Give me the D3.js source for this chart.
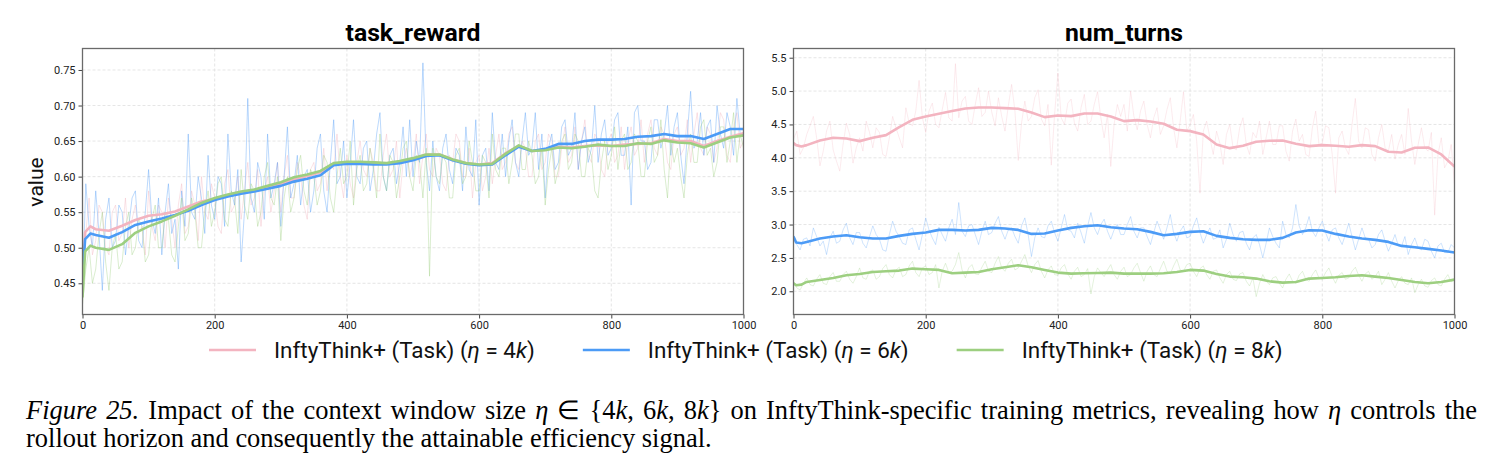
<!DOCTYPE html>
<html>
<head>
<meta charset="utf-8">
<script src="https://cdn.jsdelivr.net/npm/d3@7"></script>
<style>
  body { margin: 0; background: #fff; }
  svg { display: block; }
</style>
</head>
<body>
<svg width="1491" height="475"></svg>
<script>
/* global d3 */
// Values. Raw traces every 5 steps, smoothed ones every 20
// (plus a couple of early points where the curves jump up).
const rawSteps = d3.range(0, 1001, 5);
const smoothSteps = [0, 4, 12].concat(d3.range(20, 1001, 20));

const etas = ['4', '6', '8'];
const colors = ['#f3b4c0', '#4c9bf6', '#9dcf80'];

const xTicks = [0, 200, 400, 600, 800, 1000];
const rewardTicks = [0.45, 0.50, 0.55, 0.60, 0.65, 0.70, 0.75];
const turnsTicks = [2.0, 2.5, 3.0, 3.5, 4.0, 4.5, 5.0, 5.5];

// task_reward, raw (one row = 100 steps)
const rawReward4k = [
  0.45, 0.52, 0.57, 0.49, 0.51, 0.56, 0.55, 0.50, 0.49, 0.55, 0.56, 0.51, 0.52, 0.57, 0.50, 0.54, 0.56, 0.52, 0.53, 0.49,
  0.58, 0.53, 0.51, 0.56, 0.55, 0.50, 0.57, 0.54, 0.50, 0.56, 0.59, 0.52, 0.53, 0.58, 0.56, 0.51, 0.60, 0.55, 0.54, 0.59,
  0.57, 0.53, 0.52, 0.59, 0.61, 0.55, 0.56, 0.60, 0.54, 0.58, 0.62, 0.56, 0.57, 0.61, 0.53, 0.58, 0.60, 0.55, 0.58, 0.62,
  0.55, 0.60, 0.63, 0.57, 0.57, 0.62, 0.60, 0.56, 0.54, 0.61, 0.62, 0.58, 0.59, 0.64, 0.58, 0.62, 0.61, 0.66, 0.60, 0.57,
  0.63, 0.59, 0.57, 0.62, 0.65, 0.61, 0.60, 0.64, 0.62, 0.58, 0.58, 0.63, 0.66, 0.60, 0.61, 0.65, 0.57, 0.62, 0.64, 0.60,
  0.62, 0.66, 0.59, 0.63, 0.66, 0.61, 0.60, 0.64, 0.63, 0.59, 0.58, 0.63, 0.62, 0.66, 0.65, 0.60, 0.60, 0.64, 0.57, 0.62,
  0.63, 0.58, 0.60, 0.64, 0.59, 0.63, 0.66, 0.61, 0.62, 0.66, 0.67, 0.62, 0.61, 0.65, 0.64, 0.60, 0.60, 0.65, 0.66, 0.61,
  0.62, 0.66, 0.65, 0.60, 0.60, 0.64, 0.67, 0.62, 0.63, 0.67, 0.61, 0.65, 0.68, 0.63, 0.62, 0.66, 0.65, 0.61, 0.60, 0.65,
  0.66, 0.62, 0.63, 0.67, 0.61, 0.65, 0.67, 0.63, 0.64, 0.68, 0.62, 0.66, 0.68, 0.64, 0.63, 0.67, 0.66, 0.62, 0.61, 0.66,
  0.67, 0.63, 0.64, 0.68, 0.62, 0.66, 0.69, 0.64, 0.63, 0.67, 0.66, 0.62, 0.64, 0.69, 0.68, 0.63, 0.62, 0.67, 0.69, 0.64,
  0.65];
const rawReward6k = [
  0.44, 0.59, 0.53, 0.50, 0.58, 0.52, 0.44, 0.54, 0.57, 0.50, 0.51, 0.56, 0.55, 0.49, 0.53, 0.57, 0.58, 0.51, 0.50, 0.55,
  0.61, 0.54, 0.52, 0.57, 0.49, 0.55, 0.59, 0.52, 0.54, 0.47, 0.58, 0.53, 0.66, 0.55, 0.54, 0.60, 0.57, 0.52, 0.63, 0.56,
  0.54, 0.60, 0.59, 0.53, 0.66, 0.58, 0.56, 0.61, 0.48, 0.55, 0.71, 0.57, 0.55, 0.62, 0.60, 0.54, 0.66, 0.57, 0.59, 0.62,
  0.53, 0.60, 0.67, 0.57, 0.59, 0.63, 0.56, 0.60, 0.61, 0.55, 0.58, 0.64, 0.66, 0.58, 0.55, 0.62, 0.68, 0.59, 0.60, 0.65,
  0.57, 0.62, 0.68, 0.60, 0.59, 0.64, 0.65, 0.58, 0.61, 0.66, 0.69, 0.60, 0.58, 0.63, 0.64, 0.59, 0.62, 0.67, 0.60, 0.68,
  0.60, 0.65, 0.62, 0.76, 0.62, 0.58, 0.65, 0.60, 0.58, 0.64, 0.66, 0.61, 0.59, 0.64, 0.63, 0.58, 0.67, 0.61, 0.60, 0.68,
  0.56, 0.63, 0.64, 0.58, 0.69, 0.62, 0.61, 0.66, 0.60, 0.65, 0.68, 0.62, 0.60, 0.65, 0.69, 0.63, 0.64, 0.69, 0.61, 0.66,
  0.57, 0.64, 0.66, 0.61, 0.62, 0.67, 0.68, 0.63, 0.64, 0.69, 0.61, 0.65, 0.67, 0.62, 0.64, 0.70, 0.62, 0.66, 0.68, 0.63,
  0.64, 0.68, 0.69, 0.63, 0.63, 0.67, 0.56, 0.69, 0.70, 0.65, 0.65, 0.61, 0.62, 0.68, 0.68, 0.64, 0.66, 0.70, 0.63, 0.67,
  0.69, 0.63, 0.59, 0.66, 0.72, 0.64, 0.65, 0.69, 0.63, 0.67, 0.68, 0.62, 0.70, 0.66, 0.64, 0.69, 0.67, 0.63, 0.71, 0.66,
  0.66];
const rawReward8k = [
  0.42, 0.47, 0.50, 0.45, 0.47, 0.52, 0.55, 0.48, 0.44, 0.50, 0.52, 0.47, 0.48, 0.53, 0.55, 0.49, 0.50, 0.54, 0.53, 0.48,
  0.49, 0.54, 0.56, 0.50, 0.50, 0.55, 0.54, 0.49, 0.48, 0.53, 0.57, 0.51, 0.52, 0.57, 0.55, 0.50, 0.50, 0.55, 0.58, 0.53,
  0.55, 0.59, 0.60, 0.54, 0.53, 0.58, 0.57, 0.52, 0.61, 0.56, 0.54, 0.59, 0.58, 0.53, 0.55, 0.60, 0.62, 0.57, 0.56, 0.60,
  0.51, 0.57, 0.60, 0.55, 0.57, 0.61, 0.63, 0.58, 0.56, 0.61, 0.60, 0.56, 0.58, 0.63, 0.62, 0.57, 0.55, 0.60, 0.64, 0.59,
  0.60, 0.65, 0.56, 0.61, 0.63, 0.58, 0.59, 0.64, 0.61, 0.57, 0.66, 0.60, 0.58, 0.63, 0.62, 0.57, 0.60, 0.64, 0.65, 0.60,
  0.58, 0.63, 0.62, 0.57, 0.64, 0.46, 0.64, 0.60, 0.59, 0.63, 0.62, 0.57, 0.57, 0.63, 0.64, 0.59, 0.60, 0.65, 0.62, 0.58,
  0.58, 0.63, 0.62, 0.57, 0.66, 0.61, 0.60, 0.64, 0.64, 0.59, 0.62, 0.66, 0.66, 0.61, 0.61, 0.65, 0.63, 0.59, 0.60, 0.64,
  0.56, 0.61, 0.64, 0.59, 0.61, 0.65, 0.66, 0.61, 0.62, 0.66, 0.65, 0.60, 0.60, 0.64, 0.63, 0.58, 0.57, 0.62, 0.65, 0.61,
  0.63, 0.67, 0.61, 0.65, 0.66, 0.61, 0.62, 0.66, 0.65, 0.60, 0.60, 0.65, 0.67, 0.62, 0.63, 0.68, 0.61, 0.57, 0.65, 0.62,
  0.64, 0.60, 0.57, 0.63, 0.66, 0.62, 0.62, 0.67, 0.68, 0.63, 0.64, 0.60, 0.62, 0.67, 0.67, 0.62, 0.65, 0.69, 0.62, 0.66,
  0.64];

const smoothReward4k = [0.45, 0.522, 0.530, 0.526, 0.524, 0.531, 0.539, 0.545, 0.547, 0.551,
  0.558, 0.565, 0.569, 0.574, 0.578, 0.581, 0.585, 0.590, 0.596, 0.601, 0.606, 0.618, 0.620,
  0.619, 0.620, 0.618, 0.621, 0.625, 0.631, 0.631, 0.624, 0.619, 0.617, 0.619, 0.633, 0.643,
  0.636, 0.638, 0.642, 0.641, 0.643, 0.644, 0.643, 0.645, 0.646, 0.647, 0.653, 0.650, 0.650,
  0.643, 0.650, 0.656, 0.661];
const smoothReward6k = [0.46, 0.512, 0.520, 0.518, 0.514, 0.522, 0.532, 0.537, 0.541, 0.546,
  0.552, 0.560, 0.567, 0.572, 0.576, 0.579, 0.583, 0.587, 0.593, 0.597, 0.602, 0.616, 0.618,
  0.618, 0.617, 0.617, 0.619, 0.623, 0.629, 0.630, 0.623, 0.618, 0.616, 0.617, 0.630, 0.642,
  0.636, 0.639, 0.646, 0.646, 0.650, 0.652, 0.652, 0.653, 0.656, 0.657, 0.660, 0.657, 0.657,
  0.653, 0.660, 0.667, 0.667];
const smoothReward8k = [0.43, 0.495, 0.503, 0.500, 0.497, 0.505, 0.521, 0.530, 0.537, 0.545,
  0.554, 0.563, 0.570, 0.575, 0.579, 0.582, 0.587, 0.592, 0.599, 0.603, 0.608, 0.619, 0.621,
  0.621, 0.620, 0.619, 0.622, 0.626, 0.631, 0.631, 0.624, 0.619, 0.617, 0.618, 0.632, 0.644,
  0.636, 0.637, 0.641, 0.640, 0.642, 0.645, 0.643, 0.643, 0.647, 0.646, 0.651, 0.648, 0.647,
  0.641, 0.648, 0.655, 0.658];

// num_turns, raw (one row = 100 steps)
const rawTurns4k = [
  4.28, 4.40, 4.05, 4.15, 4.35, 4.48, 4.62, 4.30, 3.88, 4.10, 4.40, 4.55, 4.12, 3.95, 3.80, 4.20, 4.52, 4.35, 3.92, 4.15,
  4.30, 4.10, 4.55, 4.38, 4.15, 4.45, 4.38, 4.05, 4.02, 4.30, 4.62, 4.45, 4.30, 4.15, 4.75, 4.52, 4.48, 4.70, 5.16, 4.60,
  4.38, 4.70, 4.82, 4.50, 4.45, 4.72, 4.98, 4.60, 4.55, 5.41, 4.60, 4.85, 4.92, 4.55, 4.50, 4.80, 5.05, 4.62, 4.68, 5.00,
  4.68, 4.48, 4.90, 4.62, 4.40, 4.78, 5.10, 4.70, 3.96, 4.52, 4.85, 4.55, 4.62, 4.90, 5.02, 4.58, 4.48, 4.80, 3.89, 4.65,
  5.27, 4.60, 4.50, 4.82, 4.88, 4.52, 4.40, 4.75, 4.95, 4.50, 4.55, 4.80, 4.99, 4.60, 4.30, 4.65, 3.87, 4.50, 4.80, 4.62,
  4.80, 4.40, 5.00, 4.62, 4.42, 4.70, 4.85, 4.50, 4.30, 4.60, 4.75, 4.35, 4.48, 4.72, 4.90, 4.45, 4.15, 4.55, 4.99, 4.40,
  4.50, 4.65, 4.25, 3.47, 4.40, 4.55, 4.30, 4.05, 4.40, 4.22, 3.90, 4.35, 4.50, 4.15, 4.12, 4.45, 4.60, 4.20, 4.05, 4.38,
  4.30, 4.55, 4.05, 4.30, 4.55, 4.20, 4.20, 4.48, 4.48, 4.10, 3.95, 4.40, 4.58, 4.25, 4.35, 4.05, 4.02, 4.45, 4.70, 4.20,
  4.22, 4.48, 4.45, 4.05, 3.47, 4.30, 4.40, 4.15, 4.05, 4.50, 4.89, 4.25, 4.15, 4.45, 4.42, 4.05, 3.95, 4.30, 4.50, 4.15,
  4.10, 4.35, 3.98, 4.20, 4.35, 4.05, 4.74, 4.25, 3.90, 4.20, 4.45, 4.15, 4.10, 4.38, 3.14, 4.05, 4.30, 3.85, 3.95, 4.20,
  3.59];
const rawTurns6k = [
  2.85, 2.70, 2.62, 2.78, 2.80, 2.68, 2.95, 2.82, 2.68, 2.75, 2.55, 2.80, 2.90, 2.72, 2.75, 2.92, 3.02, 2.80, 2.70, 2.88,
  2.88, 2.72, 2.65, 2.82, 2.98, 2.85, 2.78, 2.62, 2.60, 2.85, 3.05, 2.90, 2.82, 2.72, 2.70, 2.92, 2.95, 2.78, 2.62, 2.85,
  3.10, 2.92, 2.80, 2.70, 2.96, 2.85, 2.75, 2.95, 3.08, 2.85, 3.33, 2.90, 2.82, 2.98, 3.00, 2.85, 2.70, 2.90, 3.05, 2.85,
  2.88, 3.02, 3.12, 2.90, 2.78, 2.92, 2.95, 2.82, 2.72, 2.98, 3.10, 2.85, 2.52, 2.80, 2.95, 2.82, 2.80, 2.98, 3.05, 2.88,
  2.75, 2.95, 3.15, 2.92, 2.90, 2.80, 3.02, 2.88, 2.72, 2.98, 3.18, 2.95, 2.85, 3.00, 3.08, 2.90, 2.78, 2.92, 3.00, 2.85,
  2.85, 3.00, 3.12, 2.90, 2.80, 2.95, 2.95, 2.82, 2.70, 2.88, 3.05, 2.92, 2.78, 2.95, 3.15, 2.88, 2.75, 2.90, 2.98, 2.80,
  2.82, 2.98, 3.10, 2.88, 2.72, 2.85, 2.95, 2.78, 2.80, 2.92, 2.65, 2.78, 3.02, 2.85, 2.75, 2.88, 2.90, 2.72, 2.62, 2.80,
  2.85, 2.70, 2.50, 2.72, 2.95, 2.82, 2.72, 2.65, 3.05, 2.85, 2.80, 2.95, 3.30, 2.98, 2.85, 2.95, 3.12, 2.90, 2.82, 2.95,
  3.05, 2.88, 2.75, 2.92, 2.95, 2.80, 2.70, 2.85, 3.02, 2.82, 2.62, 2.78, 2.95, 2.80, 2.78, 2.65, 2.70, 2.85, 2.92, 2.75,
  2.60, 2.72, 2.85, 2.68, 2.68, 2.82, 2.55, 2.70, 2.80, 2.65, 2.62, 2.78, 2.75, 2.60, 2.50, 2.68, 2.72, 2.58, 2.58, 2.70,
  2.65];
const rawTurns8k = [
  2.15, 2.05, 2.02, 2.12, 2.20, 2.10, 2.08, 2.18, 2.25, 2.12, 2.10, 2.22, 2.28, 2.15, 2.15, 2.25, 2.30, 2.18, 2.12, 2.22,
  2.35, 2.20, 2.18, 2.30, 2.32, 2.18, 2.22, 2.34, 2.40, 2.25, 2.20, 2.32, 2.36, 2.22, 2.25, 2.38, 2.45, 2.28, 2.22, 2.35,
  2.38, 2.25, 2.28, 2.40, 2.05, 2.30, 2.42, 2.28, 2.30, 2.40, 2.58, 2.32, 2.20, 2.35, 2.40, 2.26, 2.25, 2.36, 2.45, 2.30,
  2.28, 2.42, 2.52, 2.35, 2.30, 2.42, 2.48, 2.32, 2.35, 2.45, 2.55, 2.38, 2.28, 2.40, 2.46, 2.30, 2.20, 2.32, 2.38, 2.25,
  2.24, 2.35, 2.40, 2.26, 2.18, 2.30, 2.36, 2.22, 2.25, 2.34, 1.96, 2.22, 2.35, 2.28, 2.22, 2.32, 2.40, 2.25, 2.18, 2.30,
  2.36, 2.22, 2.25, 2.35, 2.42, 2.28, 2.15, 2.30, 2.38, 2.25, 2.22, 2.34, 2.45, 2.30, 2.26, 2.38, 2.48, 2.32, 2.30, 2.40,
  2.42, 2.30, 2.22, 2.34, 2.38, 2.25, 2.18, 2.30, 2.32, 2.20, 2.12, 2.25, 2.30, 2.18, 2.16, 2.26, 2.28, 2.15, 2.08, 2.20,
  1.92, 2.12, 2.25, 2.15, 2.10, 2.20, 2.22, 2.12, 2.05, 2.18, 2.26, 2.15, 2.12, 2.24, 2.30, 2.18, 2.15, 2.25, 2.32, 2.20,
  2.18, 2.28, 2.35, 2.22, 2.12, 2.24, 2.28, 2.18, 2.20, 2.30, 2.36, 2.24, 2.15, 2.26, 2.30, 2.18, 2.22, 2.30, 2.10, 2.18,
  2.28, 2.15, 2.05, 2.16, 2.22, 2.12, 2.10, 2.20, 1.98, 2.10, 2.18, 2.08, 2.06, 2.16, 2.20, 2.10, 2.08, 2.18, 2.25, 2.14,
  2.18];

const smoothTurns4k = [4.22, 4.19, 4.17, 4.19, 4.26, 4.30, 4.29, 4.25, 4.30, 4.34, 4.46,
  4.57, 4.62, 4.66, 4.70, 4.74, 4.755, 4.755, 4.745, 4.735, 4.68, 4.61, 4.635, 4.625, 4.665,
  4.665, 4.62, 4.55, 4.565, 4.545, 4.51, 4.42, 4.40, 4.35, 4.20, 4.145, 4.18, 4.24, 4.255,
  4.26, 4.21, 4.175, 4.19, 4.18, 4.165, 4.19, 4.175, 4.09, 4.08, 4.15, 4.155, 4.05, 3.87];
const smoothTurns6k = [2.82, 2.73, 2.72, 2.74, 2.79, 2.82, 2.84, 2.81, 2.79, 2.79, 2.83,
  2.86, 2.88, 2.92, 2.92, 2.91, 2.92, 2.95, 2.94, 2.92, 2.86, 2.865, 2.91, 2.95, 2.975, 2.99,
  2.96, 2.94, 2.93, 2.89, 2.84, 2.86, 2.89, 2.90, 2.83, 2.80, 2.78, 2.77, 2.77, 2.80, 2.88,
  2.915, 2.91, 2.86, 2.82, 2.79, 2.77, 2.74, 2.68, 2.66, 2.635, 2.61, 2.58];
const smoothTurns8k = [2.12, 2.09, 2.10, 2.14, 2.17, 2.20, 2.24, 2.26, 2.29, 2.30, 2.31,
  2.34, 2.33, 2.32, 2.27, 2.28, 2.29, 2.33, 2.36, 2.39, 2.36, 2.32, 2.28, 2.265, 2.27, 2.275,
  2.28, 2.265, 2.265, 2.265, 2.27, 2.29, 2.32, 2.31, 2.26, 2.22, 2.21, 2.19, 2.15, 2.13, 2.14,
  2.19, 2.20, 2.21, 2.23, 2.24, 2.22, 2.20, 2.17, 2.14, 2.12, 2.14, 2.175];

const panels = [
  {
    title: 'task_reward', x0: 82.5, x1: 743.5, domain: [0.4061, 0.7802],
    ticks: rewardTicks, fmt: d3.format('.2f'), rawOpacity: 0.42,
    raw: [rawReward4k, rawReward6k, rawReward8k],
    smooth: [smoothReward4k, smoothReward6k, smoothReward8k],
  },
  {
    title: 'num_turns', x0: 793.5, x1: 1454.5, domain: [1.652, 5.638],
    ticks: turnsTicks, fmt: d3.format('.1f'), rawOpacity: 0.3,
    raw: [rawTurns4k, rawTurns6k, rawTurns8k],
    smooth: [smoothTurns4k, smoothTurns6k, smoothTurns8k],
  },
];

const plotTop = 48.5;
const plotBottom = 314.5;
const sans = 'Roboto, "DejaVu Sans", sans-serif';

const svg = d3.select('svg');

// scale a text's font size so it ends up with a given width
function fitWidth(sel, width) {
  const size = parseFloat(sel.attr('font-size'));
  const w = sel.node().getComputedTextLength();
  sel.attr('font-size', size * width / w);
}

function drawPanel(p, idx) {
  const x = d3.scaleLinear().domain([0, 1000]).range([p.x0, p.x1]);
  const y = d3.scaleLinear().domain(p.domain).range([plotBottom, plotTop]);
  const g = svg.append('g');

  const clipId = `clip${idx}`;
  g.append('clipPath').attr('id', clipId)
    .append('rect')
      .attr('x', p.x0).attr('y', plotTop)
      .attr('width', p.x1 - p.x0).attr('height', plotBottom - plotTop);

  // dashed grid
  g.append('g').selectAll('line').data(xTicks).enter().append('line')
    .attr('x1', d => x(d)).attr('x2', d => x(d))
    .attr('y1', plotTop).attr('y2', plotBottom)
    .attr('stroke', '#dedede').attr('stroke-width', 0.8)
    .attr('stroke-dasharray', '3,2');
  g.append('g').selectAll('line').data(p.ticks).enter().append('line')
    .attr('x1', p.x0).attr('x2', p.x1)
    .attr('y1', d => y(d)).attr('y2', d => y(d))
    .attr('stroke', '#dedede').attr('stroke-width', 0.8)
    .attr('stroke-dasharray', '3,2');

  const plot = g.append('g').attr('clip-path', `url(#${clipId})`);

  const rawLine = d3.line()
    .x((d, i) => x(rawSteps[i]))
    .y(d => y(d));
  const smoothLine = d3.line()
    .x((d, i) => x(smoothSteps[i]))
    .y(d => y(d));

  plot.selectAll('path.raw').data(p.raw).enter().append('path')
    .attr('class', 'raw')
    .attr('d', rawLine)
    .attr('fill', 'none')
    .attr('stroke', (d, i) => colors[i])
    .attr('stroke-opacity', p.rawOpacity)
    .attr('stroke-width', 0.9);

  plot.selectAll('path.smooth').data(p.smooth).enter().append('path')
    .attr('class', 'smooth')
    .attr('d', smoothLine)
    .attr('fill', 'none')
    .attr('stroke', (d, i) => colors[i])
    .attr('stroke-width', 2.6)
    .attr('stroke-linejoin', 'round');

  // axes
  const xAxis = g.append('g')
    .attr('transform', `translate(0,${plotBottom})`)
    .call(d3.axisBottom(x).tickValues(xTicks).tickFormat(d3.format('d'))
      .tickSize(4).tickPadding(3));
  const yAxis = g.append('g')
    .attr('transform', `translate(${p.x0},0)`)
    .call(d3.axisLeft(y).tickValues(p.ticks).tickFormat(p.fmt).tickSize(4).tickPadding(3));
  [xAxis, yAxis].forEach((a) => {
    a.select('.domain').remove();
    a.selectAll('.tick line').attr('stroke', '#444');
    a.selectAll('.tick text')
      .attr('font-family', sans)
      .attr('font-size', 11)
      .attr('fill', '#222');
  });

  // frame
  g.append('rect')
    .attr('x', p.x0).attr('y', plotTop)
    .attr('width', p.x1 - p.x0).attr('height', plotBottom - plotTop)
    .attr('fill', 'none')
    .attr('stroke', '#6a6a6a')
    .attr('stroke-width', 1.3);

  const title = g.append('text')
    .attr('x', (p.x0 + p.x1) / 2)
    .attr('y', 41)
    .attr('text-anchor', 'middle')
    .attr('font-family', sans)
    .attr('font-weight', 700)
    .attr('font-size', 22)
    .attr('fill', '#000')
    .text(p.title);
  if (idx === 0) fitWidth(title, 135);
  return title;
}

const titles = panels.map(drawPanel);
titles[1].attr('font-size', titles[0].attr('font-size'));

svg.append('text')
  .attr('transform', 'translate(43,182) rotate(-90)')
  .attr('text-anchor', 'middle')
  .attr('font-family', sans)
  .attr('font-size', 21)
  .attr('fill', '#111')
  .text('value');

// legend under both plots
function legendText(t, eta) {
  t.append('tspan').text('InftyThink+ (Task) (');
  t.append('tspan').attr('font-style', 'italic').text('η');
  t.append('tspan').text(` = ${eta}`);
  t.append('tspan').attr('font-style', 'italic').text('k');
  t.append('tspan').text(')');
}

const legend = svg.append('g');
const probe = legend.append('text')
  .attr('font-family', sans).attr('font-size', 22);
legendText(probe, '4');
fitWidth(probe, 261);
const legendSize = probe.attr('font-size');
probe.remove();

let lx = 209;
etas.forEach((eta, i) => {
  legend.append('line')
    .attr('x1', lx).attr('x2', lx + 47)
    .attr('y1', 350).attr('y2', 350)
    .attr('stroke', colors[i])
    .attr('stroke-width', 2.6);
  const t = legend.append('text')
    .attr('x', lx + 65)
    .attr('y', 358)
    .attr('font-family', sans)
    .attr('font-size', legendSize)
    .attr('fill', '#111');
  legendText(t, eta);
  lx += 65 + t.node().getComputedTextLength() + 48;
});

// caption: second line sets the size, first line is justified to full width
const serif = '"Liberation Serif", "Times New Roman", serif';
const cap2 = svg.append('text')
  .attr('x', 26).attr('y', 447)
  .attr('font-family', serif).attr('font-size', 24).attr('fill', '#000')
  .text('rollout horizon and consequently the attainable efficiency signal.');
fitWidth(cap2, 686);

const cap1 = svg.append('text')
  .attr('x', 26).attr('y', 419)
  .attr('font-family', serif).attr('font-size', cap2.attr('font-size')).attr('fill', '#000');
cap1.append('tspan').attr('font-style', 'italic').text('Figure 25.');
cap1.append('tspan').text(' Impact of the context window size ');
cap1.append('tspan').attr('font-style', 'italic').text('η');
cap1.append('tspan').text(' ∈ {4');
cap1.append('tspan').attr('font-style', 'italic').text('k');
cap1.append('tspan').text(', 6');
cap1.append('tspan').attr('font-style', 'italic').text('k');
cap1.append('tspan').text(', 8');
cap1.append('tspan').attr('font-style', 'italic').text('k');
cap1.append('tspan').text('} on InftyThink-specific training metrics, revealing how ');
cap1.append('tspan').attr('font-style', 'italic').text('η');
cap1.append('tspan').text(' controls the');
const spaces = 19;
const extra = (1446 - cap1.node().getComputedTextLength()) / spaces;
cap1.attr('word-spacing', Math.max(0, extra));
</script>
</body>
</html>
